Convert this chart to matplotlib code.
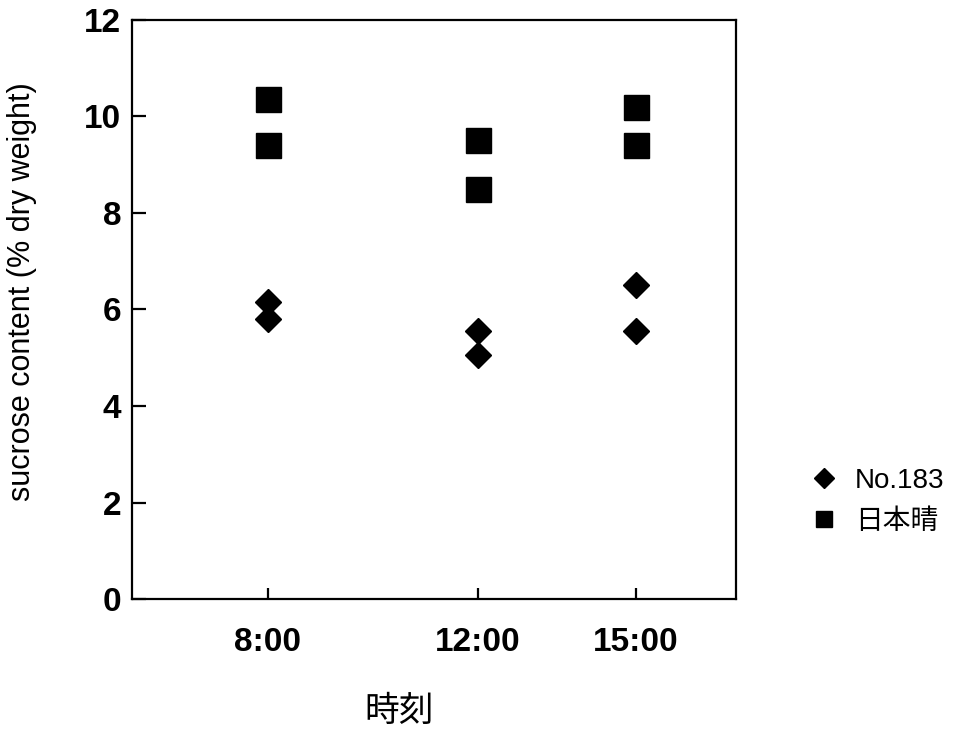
import numpy as np
import matplotlib
matplotlib.use('Agg')
import matplotlib.pyplot as plt
from matplotlib.lines import Line2D

plt.rcParams['font.family'] = ['Liberation Sans', 'Noto Sans CJK JP', 'DejaVu Sans']

# 時刻（時）と測定値（2反復）
hours = [8, 12, 15]
tick_labels = ['8:00', '12:00', '15:00']
no183 = [[6.15, 5.8], [5.55, 5.05], [6.5, 5.55]]
nipponbare = [[10.35, 9.4], [9.5, 8.5], [10.2, 9.4]]

fig = plt.figure(figsize=(9.72, 7.29), dpi=100)
ax = fig.add_axes([0.136, 0.178, 0.621, 0.795])

for h, d, s in zip(hours, no183, nipponbare):
    ax.plot([h] * len(s), s, linestyle='none', marker='s', markersize=18,
            color='black')
    ax.plot([h] * len(d), d, linestyle='none', marker='D', markersize=13.5,
            color='black')

ax.set_xlim(5.42, 16.9)
ax.set_ylim(0, 12)
ax.set_xticks(hours)
ax.set_xticklabels(tick_labels)
ax.set_yticks(np.arange(0, 13, 2))

for sp in ax.spines.values():
    sp.set_linewidth(1.6)
ax.tick_params(axis='both', direction='in', width=1.6, labelsize=24)
ax.tick_params(axis='x', length=8, pad=20)
ax.tick_params(axis='y', length=10, pad=8)
for lab in ax.get_xticklabels() + ax.get_yticklabels():
    lab.set_fontweight('bold')

ax.set_ylabel('sucrose content (% dry weight)', fontsize=22)
ax.yaxis.set_label_coords(-0.158, 0.53)
ax.set_xlabel('時刻', fontsize=25)
ax.xaxis.set_label_coords(0.443, -0.165)

handles = [
    Line2D([], [], linestyle='none', marker='D', markersize=10, color='black'),
    Line2D([], [], linestyle='none', marker='s', markersize=12, color='black'),
]
fig.legend(handles, ['No.183', '日本晴'], loc='center left',
           bbox_to_anchor=(0.805, 0.312), frameon=False, fontsize=20,
           handletextpad=0.5, labelspacing=0.55, handlelength=1.2)

fig.savefig('out.png', dpi=100)
